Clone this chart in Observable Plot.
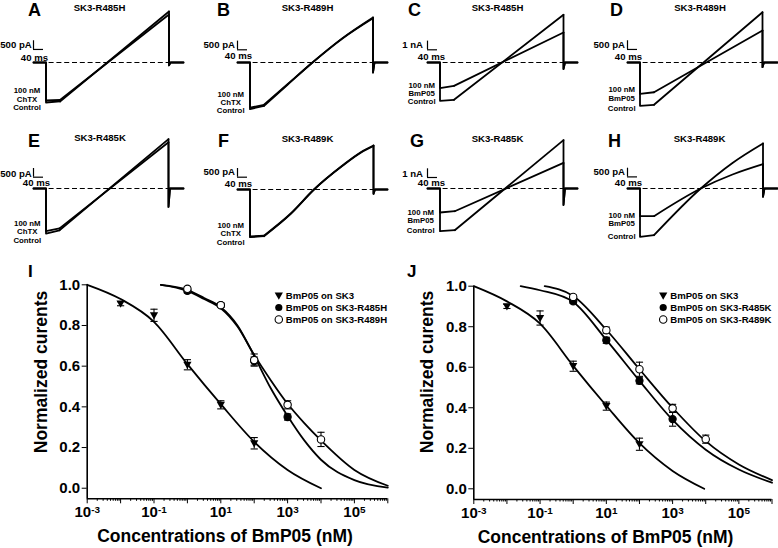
<!DOCTYPE html>
<html><head><meta charset="utf-8">
<script src="https://cdn.jsdelivr.net/npm/d3@7"></script>
<script src="https://cdn.jsdelivr.net/npm/@observablehq/plot@0.6"></script>
<style>
html,body{margin:0;padding:0;background:#fff;}
#fig{position:relative;width:778px;height:548px;overflow:hidden;background:#fff;font-family:"Liberation Sans",Arial,sans-serif;}
</style></head><body><div id="fig"></div>
<script>
// ---------------- DATA ----------------
// Current traces (panels A-H), values in pA, time in ms
const panelIds = ["A","B","C","D","E","F","G","H"];
const panelTitles = ["SK3-R485H","SK3-R489H","SK3-R485H","SK3-R489H","SK3-R485K","SK3-R489K","SK3-R485K","SK3-R489K"];
const toxinNames = ["ChTX","ChTX","BmP05","BmP05","ChTX","ChTX","BmP05","BmP05"];
const barSizes = [500,500,1000,500,500,500,1000,500];          // pA
const barLabels = ["500 pA","500 pA","1 nA","500 pA","500 pA","500 pA","1 nA","500 pA"];
const barTimeMs = 40;
const barTimeLabel = "40 ms";
const barBase = [750,730,1460,750,650,707,1265,667];            // pA, lower end of the vertical scale bar
const protocolMs = [0, 50, 600];                                 // sweep start, step onset, sweep end
const tailReturnMs = 6;
const stepControl = [-2300,-2680,-4400,-2490,-2590,-2740,-4910,-2780];
const stepToxin   = [-2185,-2600,-2945,-1800,-2455,-2700,-2760,-1590];
const rampControl = [
  [[106,-2240],[542,2930]],
  [[106,-2490],[200,-1280],[300,0],[420,1400],[542,2590]],
  [[106,-4290],[544,5485]],
  [[106,-2430],[540,2890]],
  [[104,-2400],[540,2835]],
  [[106,-2685],[213,-1400],[306,0],[420,1380],[493,2145],[544,2530]],
  [[109,-4795],[544,5555]],
  [[106,-2685],[293,0],[420,1470],[542,2590]]
];
const rampToxin = [
  [[106,-2155],[542,2760]],
  [[106,-2430],[200,-1250],[300,0],[420,1380],[542,2540]],
  [[106,-2680],[544,3450]],
  [[106,-1710],[540,1840]],
  [[104,-2290],[540,2660]],
  [[106,-2650],[213,-1380],[306,0],[420,1360],[493,2110],[544,2500]],
  [[109,-2610],[544,2945]],
  [[106,-1590],[293,0],[420,805],[542,1400]]
];
const tailMin = [-170,-575,-760,-270,-1060,-250,-1900,-480];

// Dose-response (panels I, J): [concentration nM, normalized current, error]
const sk3_I   = [[0.01,0.907,0.01],[0.1,0.85,0.03],[1,0.607,0.025],[10,0.41,0.02],[100,0.221,0.028]];
const r485h_I = [[1,0.97,0.01],[10,0.90,0.01],[100,0.625,0.02],[1000,0.35,0.015]];
const r489h_I = [[1,0.98,0.01],[10,0.90,0.01],[100,0.63,0.03],[1000,0.41,0.02],[10000,0.24,0.035]];
const sk3_J   = [[0.01,0.90,0.01],[0.1,0.843,0.035],[1,0.605,0.025],[10,0.408,0.02],[100,0.22,0.03]];
const r485k_J = [[1,0.925,0.01],[10,0.733,0.015],[100,0.533,0.015],[1000,0.344,0.035]];
const r489k_J = [[1,0.947,0.01],[10,0.783,0.015],[100,0.59,0.035],[1000,0.397,0.02],[10000,0.245,0.02]];
// Fitted curves: [concentration nM, normalized current]
const fitSk3_I   = [[1e-3,1.0],[1e-2,0.93],[1e-1,0.818],[1,0.61],[10,0.413],[100,0.228],[1e3,0.09],[1e4,0.0]];
const fitR485h_I = [[0.16,1.0],[1,0.975],[3.16,0.935],[10,0.89],[31.6,0.80],[100,0.65],[316,0.49],[1e3,0.355],[3.16e3,0.235],[1e4,0.14],[1e5,0.04],[1e6,0.003]];
const fitR489h_I = [[0.16,1.0],[1,0.97],[3.16,0.93],[10,0.885],[31.6,0.795],[100,0.655],[316,0.53],[1e3,0.415],[3.16e3,0.32],[1e4,0.235],[1e5,0.09],[1e6,0.012]];
const fitSk3_J   = [[1e-3,1.0],[1e-2,0.925],[1e-1,0.815],[1,0.607],[10,0.41],[100,0.225],[1e3,0.088],[9e3,0.0]];
const fitR485k_J = [[0.026,1.0],[0.1,0.98],[1,0.922],[10,0.735],[100,0.533],[1e3,0.34],[1e4,0.193],[1e5,0.095],[1e6,0.03]];
const fitR489k_J = [[0.138,1.0],[1,0.952],[10,0.785],[100,0.59],[1e3,0.40],[1e4,0.235],[1e5,0.12],[1e6,0.043]];
const legendI = ["BmP05 on SK3","BmP05 on SK3-R485H","BmP05 on SK3-R489H"];
const legendJ = ["BmP05 on SK3","BmP05 on SK3-R485K","BmP05 on SK3-R489K"];
const yTicks = [0, 0.2, 0.4, 0.6, 0.8, 1.0];
const xDecades = [-3,-2,-1,0,1,2,3,4,5,6];
const xLabelled = [-3,-1,1,3,5];
const xTitle = "Concentrations of BmP05 (nM)";
const yTitle = "Normalized curents";
const conditionLabel = "100 nM";
const controlLabel = "Control";

// ---------------- LAYOUT ----------------
const FONT = '"Liberation Sans", Arial, sans-serif';
const layout = {
  traceOrigin: [[33,62],[236.7,61.7],[426.7,61.7],[626.7,62],[33.3,188.3],[236.7,189],[426.7,188.3],[626.7,188.3]],
  letters: [[28,15.5],[217,15.5],[408,15.5],[610,15.5],[28,147],[218,147],[410,147],[608,147],[28,277],[407,277]],
  titles: [[99.5,10.5],[307.5,10.5],[497.5,10.5],[700,10.5],[100,141],[307.5,141.5],[497.5,141.5],[699.5,141.5]],
  barText: [[31.7,48.3],[235,48.3],[423,48.3],[625,48.3],[31.7,176.7],[235,175],[423,177],[625,175]],
  msText: [[48,61],[252,59.3],[445,60],[642,60],[50,186],[252,187],[445,186],[642,186]],
  labels: [[27,[93.3,101.7,110]],[230.7,[96.8,104.9,113]],[421.7,[88,96.1,104.3]],[621.7,[92.3,101,111]],
           [27.3,[226,234.3,243.3]],[230.7,[228.3,236.4,245.3]],[420.7,[215,223.1,232.7]],[621.7,[218.3,226.4,239.3]]],
  yTitles: [[41,372],[426.7,372]]
};

const fig = document.getElementById("fig");
function place(el, left, top) {
  el.style.position = "absolute"; el.style.left = left + "px"; el.style.top = top + "px";
  fig.appendChild(el);
}

// ---------------- TRACE PANELS ----------------
function traceSegments(step, ramp, tail) {
  const [t1, iEnd] = ramp[ramp.length - 1];
  return {
    hold: [[protocolMs[0],0],[protocolMs[1],0],[protocolMs[1],step],ramp[0]],
    ramp: ramp,
    tail: [[t1,iEnd],[t1,tail],[t1 + tailReturnMs,0],[protocolMs[2],0]]
  };
}
panelIds.forEach((id, i) => {
  const [ox, oy] = layout.traceOrigin[i];
  const L = 30, T = 58, W = 190, H = 122;
  const traces = [traceSegments(stepControl[i], rampControl[i], tailMin[i]),
                  traceSegments(stepToxin[i], rampToxin[i], tailMin[i])];
  const lineOpts = {x: d => d[0], y: d => d[1], strokeWidth: 1.8};
  const marks = [
    Plot.ruleY([0], {x1: protocolMs[0], x2: protocolMs[2], strokeWidth: 1.2, strokeDasharray: "5,2.8"}),
    Plot.ruleX([protocolMs[0]], {y1: barBase[i], y2: barBase[i] + barSizes[i], strokeWidth: 1.2}),
    Plot.ruleY([barBase[i]], {x1: protocolMs[0], x2: protocolMs[0] + barTimeMs, strokeWidth: 1.2})
  ];
  traces.forEach(tr => {
    marks.push(Plot.line(tr.hold, lineOpts));
    marks.push(Plot.line(tr.ramp, {...lineOpts, curve: "monotone-x"}));
    marks.push(Plot.line(tr.tail, lineOpts));
  });
  const p = Plot.plot({
    width: W, height: H, margin: 0,
    x: {domain: [protocolMs[0], protocolMs[2]], range: [L, L + 150], axis: null},
    y: {domain: [0, barSizes[i]], range: [T, T - 8.7], axis: null},
    style: {background: "transparent", overflow: "visible"},
    marks
  });
  place(p, ox - L, oy - T);
});

// ---------------- DOSE-RESPONSE PANELS ----------------
const triDown = {draw(ctx, size) { const w = Math.sqrt(size / Math.PI) * 1.15;
  ctx.moveTo(-w, -0.75 * w); ctx.lineTo(w, -0.75 * w); ctx.lineTo(0, w); ctx.closePath(); }};
const capSym = {draw(ctx, size) { const w = Math.sqrt(size / Math.PI);
  ctx.moveTo(-w, 0); ctx.lineTo(w, 0); }};

function superscriptTicks(svg) {
  svg.querySelectorAll('g[aria-label="x-axis tick label"] text').forEach(t => {
    const m = /^10\^(.+)$/.exec(t.textContent);
    if (!m) return;
    t.textContent = "10";
    const ts = document.createElementNS("http://www.w3.org/2000/svg", "tspan");
    ts.setAttribute("dy", "-0.42em"); ts.setAttribute("font-size", "0.66em"); ts.textContent = m[1];
    t.appendChild(ts);
  });
}

function dosePlot(c) {
  const rows = arr => arr.map(([x, y, e]) => ({x, y, e}));
  const minor = xDecades.slice(0, -1).flatMap(e => [2,3,4,5,6,7,8,9].map(k => k * Math.pow(10, e)));
  const decades = xDecades.map(e => Math.pow(10, e));
  const pt = d => d[0], pv = d => d[1];
  const series = [
    {data: rows(c.sk3), fit: c.fitSk3, sym: triDown, fill: "black", stroke: "none", r: 3.6},
    {data: rows(c.mutA), fit: c.fitA, sym: "circle", fill: "black", stroke: "black", r: 3.6},
    {data: rows(c.mutB), fit: c.fitB, sym: "circle", fill: "white", stroke: "black", r: 3.7}
  ];
  const marks = [
    Plot.ruleY([c.yMin], {x1: 1e-3, x2: 1e6, strokeWidth: 1.6}),
    Plot.ruleX([1e-3], {y1: c.yMin, y2: 1, strokeWidth: 1.6}),
    Plot.axisY({ticks: yTicks, tickFormat: d3.format(".1f"), tickSize: 5, tickPadding: 2, label: null, fontSize: 15}),
    Plot.axisX({ticks: minor, tickSize: 2.5, tickFormat: () => "", label: null}),
    Plot.axisX({ticks: decades, tickSize: 5, tickPadding: 3, label: null, fontSize: 15,
      tickFormat: d => { const e = Math.round(Math.log10(d)); return xLabelled.includes(e) ? `10^${e}` : ""; }}),
    Plot.text([xTitle], {text: d => d, frameAnchor: "bottom", dx: c.xtDx, dy: 38, lineAnchor: "middle", fontSize: 17.5})
  ];
  series.forEach(s => marks.push(Plot.line(s.fit, {x: pt, y: pv, curve: "monotone-x", strokeWidth: 1.8})));
  series.forEach(s => {
    marks.push(Plot.ruleX(s.data, {x: "x", y1: d => d.y - d.e, y2: d => d.y + d.e, strokeWidth: 1.1}));
    marks.push(Plot.dot(s.data, {x: "x", y: d => d.y + d.e, symbol: capSym, r: 3.6, stroke: "black", strokeWidth: 1.1}));
    marks.push(Plot.dot(s.data, {x: "x", y: d => d.y - d.e, symbol: capSym, r: 3.6, stroke: "black", strokeWidth: 1.1}));
  });
  series.forEach(s => marks.push(Plot.dot(s.data, {x: "x", y: "y", symbol: s.sym, r: s.r, fill: s.fill, stroke: s.stroke, strokeWidth: 1.1})));
  const p = Plot.plot({
    width: c.W, height: c.H, marginLeft: c.mL, marginRight: c.mR, marginTop: c.mT, marginBottom: c.mB,
    x: {type: "log", domain: [1e-3, 1e6]},
    y: {domain: [c.yMin, 1]},
    style: {background: "transparent", overflow: "visible", fontFamily: FONT, fontWeight: "bold", fontSize: "15px", color: "black"},
    marks
  });
  superscriptTicks(p);
  place(p, c.left, c.top);

  // legend
  const lg = Plot.plot({
    width: 125, height: 56, margin: 0,
    x: {domain: [0, 1], range: [c.lgX, c.lgX + 100], axis: null},
    y: {type: "point", domain: c.legend, range: [c.lgY0, c.lgY0 + 36.5], axis: null},
    style: {background: "transparent", overflow: "visible", fontFamily: FONT, fontWeight: "bold"},
    marks: [
      Plot.dot([c.legend[0]], {x: 0, y: d => d, symbol: triDown, r: 3.6, fill: "black"}),
      Plot.dot([c.legend[1]], {x: 0, y: d => d, symbol: "circle", r: 3.6, fill: "black"}),
      Plot.dot([c.legend[2]], {x: 0, y: d => d, symbol: "circle", r: 3.7, fill: "white", stroke: "black", strokeWidth: 1.1}),
      Plot.text(c.legend, {x: 0, y: d => d, text: d => d, dx: 7, textAnchor: "start", fontSize: 9.6})
    ]
  });
  place(lg, c.lgLeft, c.lgTop);
}

dosePlot({sk3: sk3_I, mutA: r485h_I, mutB: r489h_I, fitSk3: fitSk3_I, fitA: fitR485h_I, fitB: fitR489h_I,
  legend: legendI, left: 0, top: 258, W: 390, H: 290, mL: 86.7, mR: 2.7, mT: 26.3, mB: 49.7, yMin: -0.052,
  xtDx: -12.5, lgLeft: 270, lgTop: 280, lgX: 8.3, lgY0: 9});
dosePlot({sk3: sk3_J, mutA: r485k_J, mutB: r489k_J, fitSk3: fitSk3_J, fitA: fitR485k_J, fitB: fitR489k_J,
  legend: legendJ, left: 390, top: 258, W: 388, H: 290, mL: 83.3, mR: 6.5, mT: 27.7, mB: 49, yMin: -0.0528,
  xtDx: -17.4, lgLeft: 655, lgTop: 280, lgX: 7.7, lgY0: 8.3});

// ---------------- ANNOTATION TEXT ----------------
const ov = d3.select(fig).append("svg").attr("width", 778).attr("height", 548)
  .style("position", "absolute").style("left", "0px").style("top", "0px")
  .attr("font-family", FONT).attr("font-weight", "bold");
function txt(x, y, s, size, anchor) {
  return ov.append("text").attr("x", x).attr("y", y).attr("font-size", size).attr("text-anchor", anchor).text(s);
}
[...panelIds, "I", "J"].forEach((id, i) => txt(layout.letters[i][0], layout.letters[i][1], id, i < 8 ? 18 : 17, "start"));
panelIds.forEach((id, i) => {
  txt(layout.titles[i][0], layout.titles[i][1], panelTitles[i], 9.6, "middle");
  txt(layout.barText[i][0], layout.barText[i][1], barLabels[i], 9.6, "end");
  txt(layout.msText[i][0], layout.msText[i][1], barTimeLabel, 9.6, "end");
  const [cx, ys] = layout.labels[i];
  [conditionLabel, toxinNames[i], controlLabel].forEach((s, k) => txt(cx, ys[k], s, 7.8, "middle"));
});
layout.yTitles.forEach(([x, y]) => {
  ov.append("text").attr("transform", `translate(${x},${y}) rotate(-90)`).attr("dy", "0.35em")
    .attr("font-size", 17.5).attr("text-anchor", "middle").text(yTitle);
});
</script></body></html>
